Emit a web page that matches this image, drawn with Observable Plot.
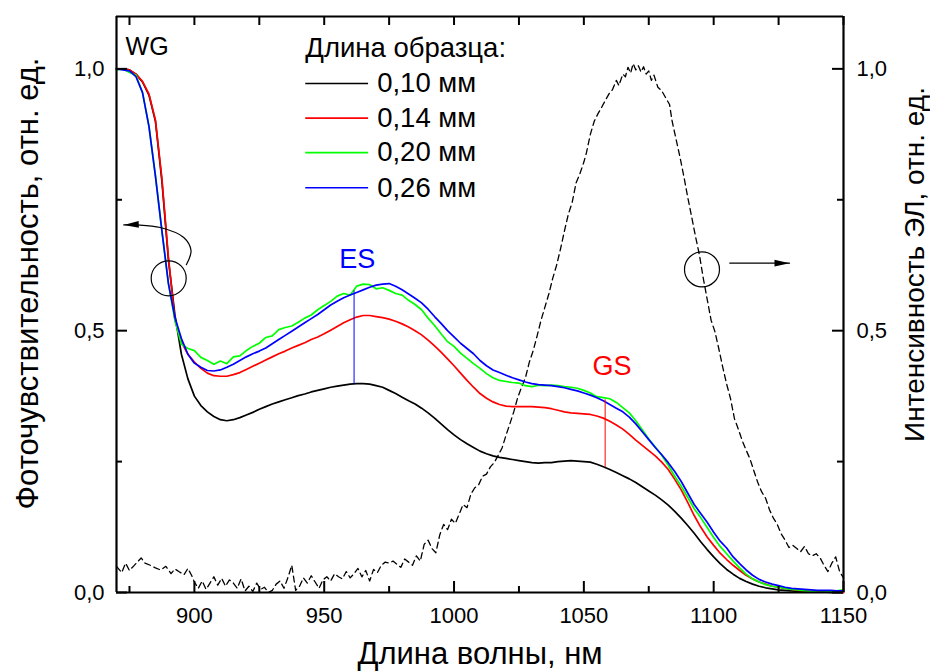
<!DOCTYPE html>
<html>
<head>
<meta charset="utf-8">
<script src="https://cdn.jsdelivr.net/npm/d3@7"></script>
<script src="https://cdn.jsdelivr.net/npm/@observablehq/plot@0.6"></script>
<style>
  body { margin: 0; background: #fff; }
</style>
</head>
<body>
<div id="chart"></div>
<script>
// Photosensitivity spectra, wavelength grid 870..1150 nm, step 2.5 nm
const wavelength = d3.range(870, 1150.001, 2.5);

// sample length 0.10 mm
const pc010 = [
  1.0, 1.0, 0.998, 0.99,
  0.975, 0.95, 0.9, 0.785,
  0.635, 0.53, 0.455, 0.408,
  0.375, 0.357, 0.345, 0.336,
  0.33, 0.328, 0.33, 0.334,
  0.339, 0.344, 0.35, 0.355,
  0.36, 0.364, 0.368, 0.372,
  0.376, 0.379, 0.383, 0.386,
  0.389, 0.392, 0.394, 0.396,
  0.398, 0.399, 0.399, 0.398,
  0.395, 0.392, 0.386, 0.38,
  0.373, 0.366, 0.36, 0.352,
  0.343, 0.333, 0.322, 0.311,
  0.301, 0.292, 0.284, 0.277,
  0.27, 0.265, 0.261, 0.258,
  0.256, 0.254, 0.252, 0.25,
  0.248, 0.247, 0.248, 0.248,
  0.25, 0.251, 0.252, 0.251,
  0.25, 0.249, 0.245, 0.24,
  0.235, 0.229, 0.223, 0.217,
  0.21, 0.202, 0.194, 0.186,
  0.177, 0.167, 0.155, 0.142,
  0.128, 0.113, 0.097, 0.082,
  0.068, 0.055, 0.044, 0.035,
  0.027, 0.021, 0.016, 0.012,
  0.009, 0.007, 0.005, 0.004,
  0.003, 0.002, 0.002, 0.001,
  0.001, 0.001, 0.0, 0.0,
  0.0
];

// sample length 0.14 mm
const pc014 = [
  1.0, 1.0, 0.998, 0.99,
  0.976, 0.952, 0.902, 0.79,
  0.64, 0.52, 0.478, 0.455,
  0.44, 0.428, 0.419, 0.414,
  0.413, 0.413, 0.416, 0.42,
  0.426, 0.432, 0.438, 0.444,
  0.45, 0.456, 0.461, 0.467,
  0.472, 0.477, 0.483, 0.488,
  0.494, 0.501, 0.508, 0.515,
  0.521, 0.526, 0.529, 0.529,
  0.527, 0.525, 0.522, 0.518,
  0.513, 0.507, 0.5, 0.492,
  0.482, 0.471, 0.459, 0.446,
  0.433, 0.419, 0.405, 0.392,
  0.38, 0.371, 0.364, 0.359,
  0.356, 0.355, 0.355, 0.355,
  0.355, 0.354, 0.353, 0.351,
  0.348, 0.345, 0.343, 0.342,
  0.341, 0.34, 0.337, 0.333,
  0.327, 0.32, 0.312, 0.302,
  0.291, 0.281, 0.271, 0.261,
  0.249, 0.235, 0.216, 0.196,
  0.172, 0.147, 0.125, 0.106,
  0.09, 0.075, 0.063, 0.052,
  0.042, 0.033, 0.026, 0.02,
  0.016, 0.012, 0.01, 0.008,
  0.006, 0.004, 0.003, 0.002,
  0.002, 0.001, 0.001, 0.0,
  0.0
];

// sample length 0.20 mm
const pc020 = [
  0.998, 1.0, 0.993, 0.988,
  0.955, 0.89, 0.795, 0.69,
  0.59, 0.52, 0.474, 0.466,
  0.462, 0.449, 0.443, 0.436,
  0.442, 0.437, 0.45, 0.452,
  0.462, 0.47, 0.476, 0.487,
  0.49, 0.502, 0.506, 0.509,
  0.516, 0.524, 0.53, 0.54,
  0.548, 0.556, 0.566, 0.571,
  0.568, 0.585, 0.589, 0.588,
  0.58, 0.582, 0.577, 0.571,
  0.568, 0.558, 0.55, 0.54,
  0.524, 0.51, 0.494, 0.479,
  0.47, 0.457, 0.447, 0.437,
  0.428, 0.418, 0.41, 0.405,
  0.403, 0.401, 0.4, 0.395,
  0.393, 0.396, 0.395, 0.396,
  0.395, 0.393, 0.392, 0.39,
  0.386, 0.381, 0.374, 0.372,
  0.37, 0.363, 0.353, 0.343,
  0.328, 0.311, 0.293, 0.278,
  0.262, 0.243, 0.222, 0.203,
  0.182, 0.16, 0.143, 0.124,
  0.105, 0.088, 0.074, 0.06,
  0.047, 0.035, 0.026, 0.02,
  0.015, 0.012, 0.01, 0.008,
  0.006, 0.005, 0.003, 0.002,
  0.001, 0.001, 0.002, 0.003,
  0.005
];

// sample length 0.26 mm
const pc026 = [
  1.0, 0.998, 0.996, 0.985,
  0.955, 0.89, 0.795, 0.69,
  0.59, 0.525, 0.485, 0.455,
  0.438, 0.43, 0.424, 0.423,
  0.425, 0.43, 0.436, 0.443,
  0.45, 0.456, 0.461, 0.467,
  0.475, 0.483, 0.491, 0.499,
  0.507, 0.515, 0.523, 0.531,
  0.54, 0.549, 0.556, 0.563,
  0.568, 0.573, 0.578, 0.583,
  0.587, 0.589, 0.59, 0.585,
  0.578, 0.57, 0.562, 0.553,
  0.541, 0.527, 0.514, 0.5,
  0.488, 0.476, 0.466, 0.456,
  0.443, 0.433, 0.425, 0.42,
  0.415, 0.41, 0.406, 0.402,
  0.399, 0.397, 0.396, 0.395,
  0.393, 0.391, 0.388, 0.385,
  0.381, 0.377, 0.372, 0.366,
  0.359, 0.352, 0.345, 0.335,
  0.322, 0.307, 0.292, 0.277,
  0.263, 0.248, 0.231, 0.212,
  0.19, 0.168, 0.151, 0.134,
  0.115, 0.098, 0.085, 0.068,
  0.055, 0.043, 0.033, 0.025,
  0.02, 0.016, 0.013, 0.01,
  0.008, 0.007, 0.006, 0.005,
  0.004, 0.004, 0.004, 0.003,
  0.003
];

// Electroluminescence spectrum (right axis), measured points
const elWavelength = [
  870, 872, 873.5, 875, 876.5, 878, 879.5, 881, 883, 885, 887, 889, 891, 892.5, 894, 896, 897.5, 899,
  900, 901.5, 903, 904.5, 906, 907.5, 909, 910.5, 912, 913.5, 915, 916.5, 918, 919.5, 921, 922.5, 924, 925.5, 927, 928.5,
  930, 931.5, 933, 934.5, 936, 937.5, 939, 940.5, 942, 943.5, 945, 946.5, 948, 949.5, 951, 952.5, 954, 955.5, 957, 958.5,
  960, 961.5, 963, 964.5, 966, 967.5, 969, 970.5, 972, 973.5, 975, 976.5, 978, 979.5, 981, 982.5, 984, 985.5, 987, 988.5,
  990, 991.5, 993, 994.5, 996, 997.5, 999, 1000.5, 1002, 1003.5, 1005, 1006.5, 1008, 1009.5, 1011, 1012.5, 1014, 1015.5, 1017, 1018.5,
  1020, 1021.5, 1023, 1024.5, 1026, 1027.5, 1029, 1030.5, 1032, 1033.5, 1035, 1036.5, 1038, 1039.5, 1041, 1042.5, 1044, 1045.5, 1047, 1048.5,
  1050, 1051, 1052.5, 1054, 1055.5, 1057, 1058.5, 1060, 1061, 1062.5, 1063.5, 1065, 1066, 1067, 1068, 1069,
  1070, 1071, 1072, 1073, 1074, 1075, 1076, 1077, 1078.5, 1080, 1081.5, 1083, 1084, 1085.5, 1087, 1088.5,
  1090, 1091.5, 1093, 1094.5, 1096, 1097.5, 1099, 1100.5, 1102, 1103.5, 1105, 1106.5, 1108, 1109.5, 1111, 1112.5, 1114, 1115.5, 1117, 1118.5,
  1120, 1121.5, 1123, 1124.5, 1126, 1127.5, 1129, 1130.5, 1132, 1133.5, 1135, 1136.5, 1138, 1139.5, 1141, 1142.5, 1144, 1145.5, 1147, 1148.5,
  1150
];
const elIntensity = [
  0.05, 0.038, 0.056, 0.042, 0.05, 0.058, 0.066, 0.056, 0.052, 0.047, 0.043, 0.05, 0.036, 0.045, 0.04, 0.034, 0.046, 0.032,
  0.02, 0.008, 0.022, 0.006, 0.018, 0.03, 0.014, 0.027, 0.012, 0.024, 0.018, 0.008, 0.026, 0.003, 0.012, 0.002, 0.018, 0.006, 0.01, 0.0,
  0.004, 0.016, 0.022, 0.008, 0.028, 0.052, 0.004, 0.012, 0.028, 0.018, 0.032, 0.02, 0.008, 0.024, 0.03, 0.022, 0.036, 0.03, 0.026, 0.04,
  0.028, 0.036, 0.046, 0.03, 0.042, 0.022, 0.044, 0.038, 0.052, 0.058, 0.056, 0.06, 0.054, 0.048, 0.064, 0.058, 0.052, 0.07, 0.06, 0.092,
  0.1, 0.084, 0.076, 0.11, 0.13, 0.12, 0.14, 0.132, 0.15, 0.168, 0.162, 0.188, 0.2, 0.206, 0.222, 0.226, 0.24, 0.248, 0.262, 0.276,
  0.3, 0.322, 0.345, 0.372, 0.392, 0.41, 0.44, 0.462, 0.49, 0.52, 0.545, 0.57, 0.6, 0.625, 0.656, 0.69, 0.722, 0.745, 0.782, 0.8,
  0.822, 0.84, 0.875, 0.9, 0.915, 0.928, 0.942, 0.955, 0.96, 0.978, 0.968, 0.99, 0.985, 1.003, 0.992, 1.01,
  0.998, 1.006, 0.994, 1.004, 0.99, 0.996, 0.978, 0.988, 0.965, 0.958, 0.945, 0.932, 0.9, 0.866, 0.832, 0.795,
  0.755, 0.718, 0.68, 0.645, 0.6, 0.56, 0.52, 0.498, 0.465, 0.43, 0.398, 0.37, 0.332, 0.312, 0.29, 0.272, 0.255, 0.232, 0.21, 0.192,
  0.18, 0.158, 0.142, 0.13, 0.112, 0.1, 0.086, 0.09, 0.084, 0.078, 0.088, 0.074, 0.07, 0.074, 0.066, 0.052, 0.04, 0.056, 0.068, 0.04,
  0.028
];

// Legend / series
const seriesLabels = ["0,10 мм", "0,14 мм", "0,20 мм", "0,26 мм"];
const seriesColors = ["#000000", "#ff0000", "#00ff00", "#0000ff"];
const seriesValues = [pc010, pc014, pc020, pc026];

// Ticks
const xMajor = [900, 950, 1000, 1050, 1100, 1150];
const xMinor = [875, 925, 975, 1025, 1075, 1125];
const yMajor = [0, 0.5, 1.0];
const yMinor = [0.25, 0.75];

// Legend placement (data units)
const legendTitle = "Длина образца:";
const legendTitlePos = [942.7, 1.039];
const legendLineX = [942.7, 966.9];
const legendTextX = 970.4;
const legendRowY = [0.972, 0.906, 0.84, 0.773];

// Region label and peak markers: ES on the 0.26 mm curve, GS near the band edge
const wgLabel = {text: "WG", x: 873.5, y: 1.042};
const peakLabels = [
  {text: "ES", x: 962.7, y: 0.637, color: "#0000ff"},
  {text: "GS", x: 1060.8, y: 0.431, color: "#ff0000"}
];
const peakRules = [
  {x: 961.5, y1: 0.398, y2: 0.576, color: "#0000ff"},
  {x: 1058.2, y1: 0.239, y2: 0.368, color: "#ff0000"}
];

// Axis pointers: circles on the curves, arrows towards the axis they use
const pointerCircles = [{x: 890.1, y: 0.6}, {x: 1095.5, y: 0.617}];
const leftArrow = [
  {x: 896.9, y: 0.626}, {x: 898.7, y: 0.653}, {x: 895.9, y: 0.678},
  {x: 886.9, y: 0.697}, {x: 878.0, y: 0.702}, {x: 872.8, y: 0.702}
];
const rightArrow = [{x: 1106.2, y: 0.629}, {x: 1129.2, y: 0.629}];

// ---------------------------------------------------------------
const W = 930, H = 672;
const mL = 116, mR = 87, mT = 16, mB = 80;
const frameW = W - mL - mR;
const frameH = H - mT - mB;
const fmtY = d => d.toFixed(1).replace(".", ",");
const fmtX = d => String(d);
const font = "'Liberation Sans', Arial, Helvetica, sans-serif";

const pcRows = seriesValues.map((vals, i) =>
  vals.map((v, j) => ({wl: wavelength[j], v, series: seriesLabels[i]}))
);
const elRows = elWavelength.map((w, i) => ({wl: w, v: elIntensity[i]}));
const legendRows = seriesLabels.map((label, i) => ({
  label, color: seriesColors[i], y: legendRowY[i], x1: legendLineX[0], x2: legendLineX[1]
}));

// filled triangular arrow head
function arrowHead(color, context) {
  const doc = (context && context.document) || document;
  const ns = "http://www.w3.org/2000/svg";
  const m = doc.createElementNS(ns, "marker");
  m.setAttribute("viewBox", "-16 -5 17 10");
  m.setAttribute("markerWidth", "17");
  m.setAttribute("markerHeight", "10");
  m.setAttribute("markerUnits", "userSpaceOnUse");
  m.setAttribute("orient", "auto");
  m.setAttribute("overflow", "visible");
  const p = doc.createElementNS(ns, "path");
  p.setAttribute("d", "M-15,-3.3L0,0L-15,3.3Z");
  p.setAttribute("fill", color);
  p.setAttribute("stroke", "none");
  m.appendChild(p);
  return m;
}

const chart = Plot.plot({
  width: W,
  height: H,
  marginLeft: mL,
  marginRight: mR,
  marginTop: mT,
  marginBottom: mB,
  x: {domain: [870, 1150]},
  y: {domain: [0, 1.1]},
  style: {fontFamily: font, background: "#fff", color: "#000", overflow: "visible"},
  marks: [
    // EL spectrum, dashed
    Plot.line(elRows, {x: "wl", y: "v", stroke: "#000", strokeWidth: 1.3, strokeDasharray: "6,4"}),
    // photosensitivity curves
    ...pcRows.map((rows, i) =>
      Plot.line(rows, {x: "wl", y: "v", stroke: seriesColors[i], strokeWidth: 1.7})
    ),
    // ES / GS markers
    Plot.ruleX(peakRules, {x: "x", y1: "y1", y2: "y2", stroke: "color", strokeWidth: 1}),
    Plot.text(peakLabels, {x: "x", y: "y", text: "text", fill: "color", textAnchor: "middle", lineAnchor: "middle", fontSize: 27}),
    Plot.text([wgLabel], {x: "x", y: "y", text: "text", textAnchor: "start", lineAnchor: "middle", fontSize: 25}),
    // legend
    Plot.text([legendTitle], {
      x: legendTitlePos[0], y: legendTitlePos[1], textAnchor: "start", lineAnchor: "middle", fontSize: 27.5
    }),
    Plot.link(legendRows, {x1: "x1", x2: "x2", y1: "y", y2: "y", stroke: "color", strokeWidth: 1.6}),
    Plot.text(legendRows, {
      x: legendTextX, y: "y", text: "label", textAnchor: "start", lineAnchor: "middle", fontSize: 27.5
    }),
    // pointers
    Plot.dot(pointerCircles, {x: "x", y: "y", r: 17.5, stroke: "#000", fill: "none", strokeWidth: 1.2}),
    Plot.line(leftArrow, {x: "x", y: "y", curve: "catmull-rom", stroke: "#000", strokeWidth: 1.2, markerEnd: arrowHead}),
    Plot.line(rightArrow, {x: "x", y: "y", stroke: "#000", strokeWidth: 1.2, markerEnd: arrowHead}),
    // inward ticks on all four sides
    Plot.tickX(xMajor, {x: d => d, insetTop: frameH - 11, stroke: "#000", strokeWidth: 2}),
    Plot.tickX(xMinor, {x: d => d, insetTop: frameH - 6, stroke: "#000", strokeWidth: 2}),
    Plot.tickX(xMajor.concat(xMinor), {x: d => d, insetBottom: frameH - 9, stroke: "#000", strokeWidth: 2}),
    Plot.tickY(yMajor, {y: d => d, insetRight: frameW - 11, stroke: "#000", strokeWidth: 2}),
    Plot.tickY(yMinor, {y: d => d, insetRight: frameW - 6, stroke: "#000", strokeWidth: 2}),
    Plot.tickY(yMajor, {y: d => d, insetLeft: frameW - 11, stroke: "#000", strokeWidth: 2}),
    Plot.tickY(yMinor, {y: d => d, insetLeft: frameW - 6, stroke: "#000", strokeWidth: 2}),
    // plot frame
    Plot.ruleX([870, 1150], {stroke: "#000", strokeWidth: 2.2}),
    Plot.ruleY([0, 1.1], {stroke: "#000", strokeWidth: 2.2}),
    // tick labels
    Plot.axisX(xMajor, {anchor: "bottom", tickSize: 0, tickPadding: 15, fontSize: 22, tickFormat: fmtX, label: null}),
    Plot.axisY(yMajor, {anchor: "left", tickSize: 0, tickPadding: 12, fontSize: 22, tickFormat: fmtY, label: null}),
    Plot.axisY(yMajor, {anchor: "right", tickSize: 0, tickPadding: 13, fontSize: 22, tickFormat: fmtY, label: null}),
    // axis titles
    Plot.text(["Длина волны, нм"], {frameAnchor: "bottom", dy: 62, textAnchor: "middle", lineAnchor: "middle", fontSize: 31}),
    Plot.text(["Фоточувствительность, отн. ед."], {frameAnchor: "left", rotate: -90, dx: -88, dy: -21, textAnchor: "middle", lineAnchor: "middle", fontSize: 31}),
    Plot.text(["Интенсивность ЭЛ, отн. ед."], {frameAnchor: "right", rotate: -90, dx: 72, dy: -40, textAnchor: "middle", lineAnchor: "middle", fontSize: 28})
  ]
});

document.getElementById("chart").appendChild(chart);
</script>
</body>
</html>
